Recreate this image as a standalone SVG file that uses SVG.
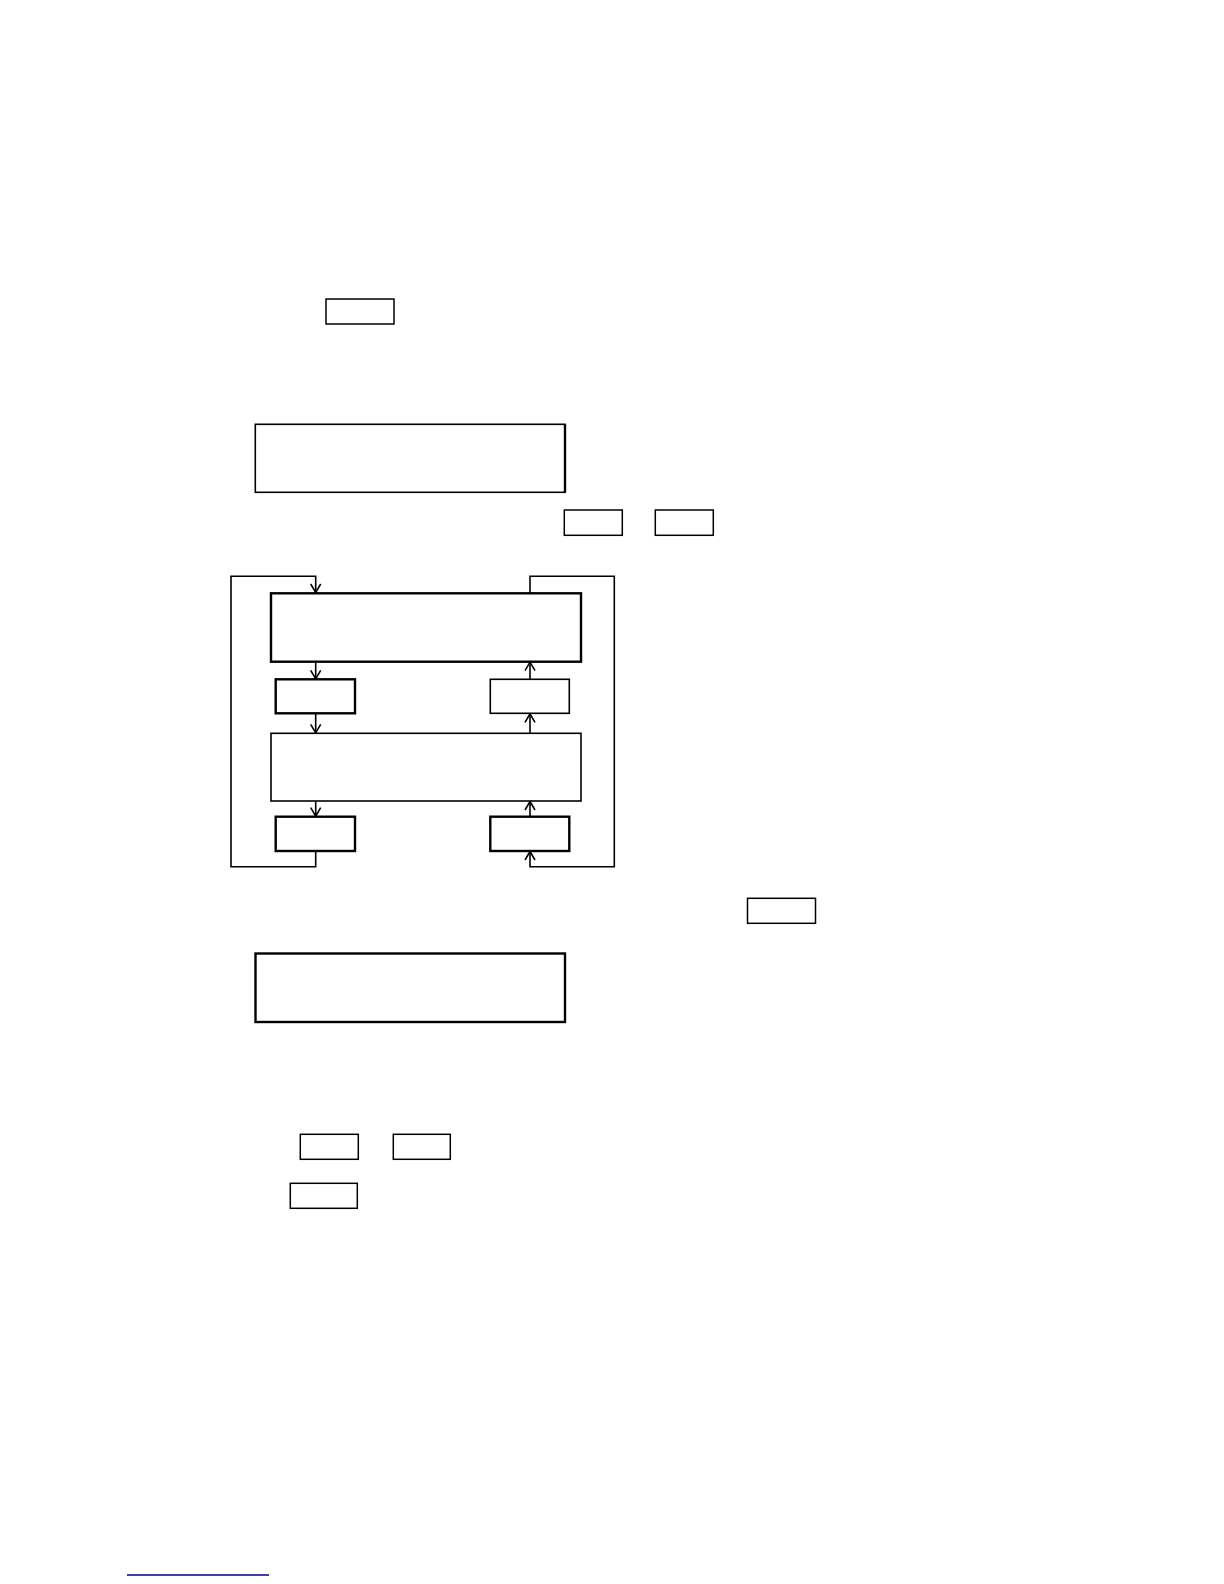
<svg xmlns="http://www.w3.org/2000/svg" width="1224" height="1584" viewBox="0 0 1224 1584">
<style>
.box{fill:#fff;stroke:#000;stroke-width:1.6}
.thick{fill:#fff;stroke:#000;stroke-width:2.4}
.small{fill:#fff;stroke:#000;stroke-width:1.5}
.con{fill:none;stroke:#000;stroke-width:1.6}
</style>
<defs>
<marker id="arr" viewBox="0 0 10 12" refX="10" refY="6" markerWidth="10" markerHeight="12" markerUnits="userSpaceOnUse" orient="auto">
<path d="M1,1 L9.5,6 L1,11" fill="none" stroke="#000" stroke-width="1.6"/>
</marker>
</defs>
<rect width="1224" height="1584" fill="#fff"/>
<g id="n-top-small"><rect class="small" x="326" y="299" width="68" height="25"/></g>
<g id="n-top"><rect class="box" x="255.3" y="424.3" width="309.7" height="68"/><line x1="565" y1="424.3" x2="565" y2="492.3" stroke="#000" stroke-width="2.4"/></g>
<g id="n-s1"><rect class="small" x="564.3" y="510" width="58" height="25.3"/></g>
<g id="n-s2"><rect class="small" x="655.3" y="510" width="58" height="25.3"/></g>
<g id="n-box1"><rect class="thick" x="271" y="593.3" width="310" height="68.4"/></g>
<g id="n-box2"><rect class="thick" x="275.7" y="679.3" width="79.3" height="34"/></g>
<g id="n-box3"><rect class="box" x="490.3" y="679.3" width="79" height="34"/></g>
<g id="n-mid"><rect class="box" x="271" y="733.3" width="310" height="67.7"/></g>
<g id="n-box5"><rect class="thick" x="275.7" y="816.7" width="79.3" height="34.3"/></g>
<g id="n-box6"><rect class="thick" x="490.3" y="816.7" width="79" height="34.3"/></g>
<g id="n-s3"><rect class="small" x="747.5" y="898.3" width="68" height="25"/></g>
<g id="n-bottom"><rect class="thick" x="255.5" y="953.5" width="309.5" height="68.5"/></g>
<g id="n-s4"><rect class="small" x="300.3" y="1134.3" width="58" height="25"/></g>
<g id="n-s5"><rect class="small" x="393.3" y="1134.3" width="57" height="25"/></g>
<g id="n-s6"><rect class="small" x="290.3" y="1183.3" width="67" height="25"/></g>
<g id="connectors">
<path class="con" d="M315.7,851 V866.7 H231 V576.3 H315.7 V593" marker-end="url(#arr)"/>
<path class="con" d="M530,593 V576.3 H614.3 V866.7 H530 V851" marker-end="url(#arr)"/>
<path class="con" d="M315.7,661.7 V679.3" marker-end="url(#arr)"/>
<path class="con" d="M530,679.3 V661.7" marker-end="url(#arr)"/>
<path class="con" d="M315.7,713.3 V733.3" marker-end="url(#arr)"/>
<path class="con" d="M530,733.3 V713.3" marker-end="url(#arr)"/>
<path class="con" d="M315.7,801 V816.7" marker-end="url(#arr)"/>
<path class="con" d="M530,816.7 V801" marker-end="url(#arr)"/>
</g>
<line x1="127" y1="1575" x2="269" y2="1575" stroke="#00008b" stroke-width="1.5"/>
</svg>
